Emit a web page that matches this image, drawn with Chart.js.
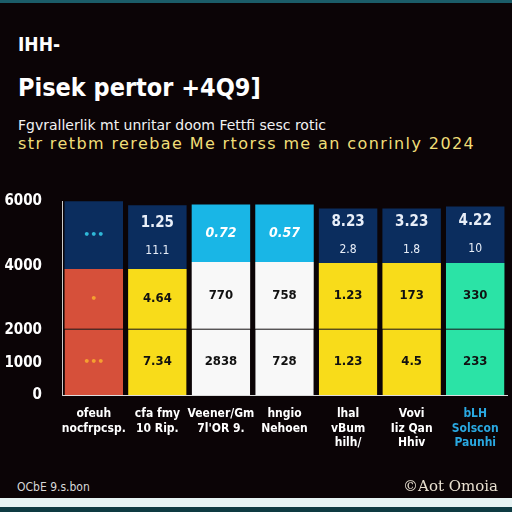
<!DOCTYPE html>
<html>
<head>
<meta charset="utf-8">
<script src="https://cdn.jsdelivr.net/npm/chart.js@4"></script>
<style>
  html, body { margin: 0; padding: 0; }
  body { width: 512px; height: 512px; background: #0b0406; position: relative; overflow: hidden; font-family: "DejaVu Sans", sans-serif; }
  .top-bar { position: absolute; left: 0; top: 0; width: 512px; height: 3px; background: #1b5c68; }
  .bottom-bar { position: absolute; left: 0; top: 498px; width: 512px; height: 9px; background: #e6f3f3; }
  .bottom-bar2 { position: absolute; left: 0; top: 507px; width: 512px; height: 5px; background: #0e3b42; }
  .t { position: absolute; left: 18px; white-space: nowrap; }
  #kicker { top: 33px; color: #fff; font: bold 19px "DejaVu Sans Condensed", sans-serif; }
  #title { top: 73px; color: #fff; font: bold 25px "DejaVu Sans Condensed", sans-serif; }
  #sub1 { top: 117px; color: #f2f2f2; font: 14px "DejaVu Sans", sans-serif; }
  #sub2 { top: 134px; color: #f0de78; font: 16px "DejaVu Sans", sans-serif; letter-spacing: 1.4px; }
  #src { top: 480px; left: 17px; color: #d8d8d8; font: 12px "DejaVu Sans Condensed", sans-serif; }
  #credit { position: absolute; top: 477px; right: 14px; color: #e8e0d0; font: 15px "DejaVu Serif", serif; }
  #wrap { position: absolute; left: 0; top: 180px; width: 512px; height: 300px; }
</style>
</head>
<body>
<div class="top-bar"></div>
<div class="t" id="kicker">IHH-</div>
<div class="t" id="title">Pisek pertor +4Q9]</div>
<div class="t" id="sub1">Fgvrallerlik mt unritar doom Fettfi sesc rotic</div>
<div class="t" id="sub2">str retbm rerebae Me rtorss me an conrinly 2024</div>
<div id="wrap"><canvas id="chart"></canvas></div>
<div class="t" id="src">OCbE 9.s.bon</div>
<div id="credit">©Aot Omoia</div>
<div class="bottom-bar"></div>
<div class="bottom-bar2"></div>
<script>
// categories (multi-line labels)
var categories = [
    ["ofeuh", "nocfrpcsp."],
    ["cfa fmy", "10 Rip."],
    ["Veener/Gm", "7l'OR 9."],
    ["hngio", "Nehoen"],
    ["lhal", "vBum", "hilh/"],
    ["Vovi", "Iiz Qan", "Hhiv"],
    ["bLH", "Solscon", "Paunhi"]
];

// stacked values, bottom to top
var lowValues = [2050, 2050, 2050, 2050, 2050, 2050, 2050];
var midValues = [1850, 1850, 2060, 2060, 2030, 2030, 2030];
var topValues = [2090, 1970, 1785, 1785, 1690, 1690, 1750];

// y tick values
var yTicks = [0, 1000, 2000, 4000, 6000];

// text printed inside the segments
var lowText = [["•••"], ["7.34"], ["2838"], ["728"], ["1.23"], ["4.5"], ["233"]];
var midText = [["•"], ["4.64"], ["770"], ["758"], ["1.23"], ["173"], ["330"]];
var topText = [["•••"], ["1.25", "11.1"], ["0.72"], ["0.57"], ["8.23", "2.8"], ["3.23", "1.8"], ["4.22", "10"]];

var navy = '#0b2d5e', cyan = '#19b6e6', red = '#d6503a', yellow = '#f8dc1a', white = '#f8f8f8', green = '#2be3a6';
var topColors = [navy, navy, cyan, cyan, navy, navy, navy];
var baseColors = [red, yellow, white, white, yellow, yellow, green];

var segmentLabels = {
    id: 'segmentLabels',
    afterDatasetsDraw: function(chart) {
        var ctx = chart.ctx;
        var texts = [lowText, midText, topText];
        ctx.save();
        ctx.textAlign = 'center';
        ctx.textBaseline = 'middle';
        for (var d = 0; d < chart.data.datasets.length; d++) {
            var meta = chart.getDatasetMeta(d);
            for (var i = 0; i < meta.data.length; i++) {
                var bar = meta.data[i];
                var lines = texts[d][i];
                var cy = (bar.y + bar.base) / 2;
                if (i === 0) {
                    ctx.fillStyle = d === 2 ? '#2fb8d8' : '#f5a030';
                    ctx.font = 'bold 11px "DejaVu Sans"';
                } else if (d === 2) {
                    ctx.fillStyle = i === 2 || i === 3 ? '#ffffff' : '#e8eef8';
                    ctx.font = (i === 2 || i === 3 ? 'italic bold 14px' : 'bold 15px') + ' "DejaVu Sans Condensed"';
                } else {
                    ctx.fillStyle = '#111111';
                    ctx.font = 'bold 13px "DejaVu Sans Condensed"';
                }
                for (var k = 0; k < lines.length; k++) {
                    var off = (k - (lines.length - 1) / 2) * 28;
                    if (d === 2 && k === 1) ctx.font = '12px "DejaVu Sans Condensed"';
                    ctx.fillText(lines[k], bar.x, cy + off);
                }
            }
        }
        ctx.restore();
    }
};

var ctx = document.getElementById('chart');
var chart = new Chart(ctx, {
    type: 'bar',
    data: {
        labels: categories,
        datasets: [{
            label: 'low',
            data: lowValues,
            backgroundColor: baseColors,
            borderColor: '#2a2a2a',
            borderWidth: { top: 1 },
            borderSkipped: false
        }, {
            label: 'mid',
            data: midValues,
            backgroundColor: baseColors,
            borderWidth: 0
        }, {
            label: 'top',
            data: topValues,
            backgroundColor: topColors,
            borderWidth: 0
        }]
    },
    options: {
        responsive: true,
        maintainAspectRatio: false,
        animation: false,
        barPercentage: 0.92,
        categoryPercentage: 1,
        layout: { padding: { top: 0, right: 5, left: 0, bottom: 0 } },
        plugins: {
            legend: { display: false },
            tooltip: { enabled: false }
        },
        scales: {
            x: {
                stacked: true,
                grid: { display: false },
                border: { display: true, color: '#dddddd', width: 1 },
                ticks: {
                    color: function(c) { return c.index === 6 ? '#2aa8e0' : '#ffffff'; },
                    font: { family: '"DejaVu Sans Condensed"', size: 12, weight: 'bold' },
                    padding: 4,
                    maxRotation: 0,
                    autoSkip: false
                },
                afterFit: function(scale) { scale.height = 85; }
            },
            y: {
                stacked: true,
                min: 0,
                max: 6000,
                grid: { display: false },
                border: { display: true, color: '#cccccc', width: 1 },
                afterBuildTicks: function(scale) {
                    scale.ticks = yTicks.map(function(v) { return { value: v }; });
                },
                ticks: {
                    color: '#ffffff',
                    font: { family: '"DejaVu Sans Condensed"', size: 15, weight: 'bold' },
                    padding: 12,
                    callback: function(v) { return String(v); }
                },
                afterFit: function(scale) { scale.width = 62; }
            }
        }
    },
    plugins: [segmentLabels]
});
</script>
</body>
</html>
